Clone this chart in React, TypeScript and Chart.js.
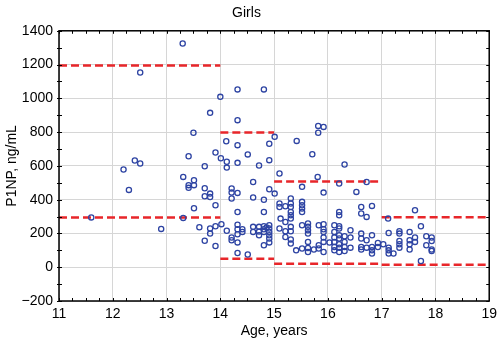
import React, { useEffect, useRef } from "react";
import { Chart, registerables } from "chart.js";

Chart.register(...registerables);

// ---- data ----
const chartTitle = "Girls";
const xAxisTitle = "Age, years";
const yAxisTitle = "P1NP, ng/mL";
const xMin = 11;
const xMax = 19;
const yMin = -200;
const yMax = 1400;

// [age, P1NP]
const girls11to14: [number, number][] = [
  [11.6, 295], [12.2, 579], [12.3, 458], [12.41, 632], [12.51, 614], [12.51, 1153],
  [12.9, 227], [13.3, 1325], [13.31, 535], [13.31, 292], [13.41, 657], [13.41, 486],
  [13.41, 470], [13.5, 796], [13.51, 515], [13.51, 486], [13.51, 349], [13.61, 237],
  [13.71, 598], [13.71, 468], [13.71, 420], [13.71, 157], [13.81, 914], [13.81, 436],
  [13.81, 416], [13.81, 229], [13.81, 199], [13.91, 679], [13.91, 367], [13.91, 243],
  [13.91, 126],
];

const girls14to15: [number, number][] = [
  [14.0, 1009], [14.01, 645], [14.02, 255], [14.11, 746], [14.12, 625], [14.12, 590],
  [14.12, 216], [14.21, 466], [14.21, 442], [14.21, 407], [14.21, 176], [14.21, 160],
  [14.32, 1053], [14.32, 871], [14.32, 723], [14.32, 618], [14.32, 440], [14.32, 327],
  [14.32, 252], [14.32, 225], [14.32, 195], [14.32, 147], [14.32, 84], [14.41, 225],
  [14.41, 209], [14.51, 668], [14.51, 75], [14.61, 505], [14.61, 413], [14.61, 239],
  [14.61, 209], [14.72, 602], [14.72, 239], [14.72, 211], [14.72, 189], [14.81, 1053],
  [14.81, 400], [14.81, 327], [14.81, 243], [14.81, 225], [14.81, 209], [14.81, 130],
  [14.86, 235], [14.91, 731], [14.91, 634], [14.91, 462], [14.91, 249], [14.91, 229],
  [14.91, 209], [14.91, 189], [14.91, 170], [14.91, 147],
];

const girls15to17: [number, number][] = [
  [15.01, 772], [15.01, 436], [15.1, 555], [15.1, 377], [15.1, 357], [15.1, 229],
  [15.12, 288], [15.21, 361], [15.21, 268], [15.21, 213], [15.21, 179], [15.31, 407],
  [15.31, 377], [15.31, 357], [15.31, 327], [15.31, 308], [15.31, 288], [15.31, 239],
  [15.31, 213], [15.31, 164], [15.31, 140], [15.41, 100], [15.42, 748], [15.52, 476],
  [15.52, 387], [15.52, 367], [15.52, 348], [15.52, 327], [15.52, 249], [15.52, 111],
  [15.63, 259], [15.63, 239], [15.63, 219], [15.63, 199], [15.63, 150], [15.63, 114],
  [15.63, 90], [15.71, 669], [15.74, 105], [15.82, 837], [15.92, 831], [15.82, 796],
  [15.81, 535], [15.83, 249], [15.83, 130], [15.83, 111], [15.92, 442], [15.92, 255],
  [15.92, 225], [15.92, 209], [15.92, 176], [15.92, 150], [15.92, 90], [16.03, 146],
  [16.12, 249], [16.12, 209], [16.12, 176], [16.12, 150], [16.12, 120], [16.12, 100],
  [16.21, 496], [16.21, 327], [16.21, 308], [16.21, 243], [16.21, 229], [16.21, 189],
  [16.21, 170], [16.21, 136], [16.21, 116], [16.21, 90], [16.31, 608], [16.31, 183],
  [16.31, 150], [16.31, 120], [16.31, 96], [16.42, 219], [16.42, 176], [16.42, 116],
  [16.53, 446], [16.62, 357], [16.62, 318], [16.62, 199], [16.62, 170], [16.62, 120],
  [16.62, 105], [16.72, 505], [16.72, 298], [16.72, 160], [16.72, 116], [16.82, 363],
  [16.82, 189], [16.82, 120], [16.82, 100], [16.82, 81], [16.93, 144], [16.93, 120],
];

const girls17to19: [number, number][] = [
  [17.03, 136], [17.12, 288], [17.13, 203], [17.13, 116], [17.13, 100], [17.13, 81],
  [17.22, 81], [17.33, 213], [17.33, 199], [17.33, 155], [17.33, 136], [17.33, 116],
  [17.52, 209], [17.52, 160], [17.52, 136], [17.52, 105], [17.62, 337], [17.62, 176],
  [17.62, 150], [17.73, 243], [17.73, 37], [17.83, 183], [17.83, 130], [17.93, 176],
  [17.93, 155], [17.93, 105], [17.93, 96],
];

// reference bands: [fromAge, toAge, upper, lower]
const bandStarts = [11, 14, 15, 17];
const bandEnds = [14, 15, 17, 19];
const bandUpper = [1195, 798, 507, 296];
const bandLower = [295, 50, 20, 14];

// ---- chart ----
const FONT = "'Liberation Sans', Arial, Helvetica, sans-serif";
const BLUE = "#2e44a3";
const RED = "#e8262a";

const framePlugin = {
  id: "frameTicks",
  afterDatasetsDraw(chart: any) {
    const { ctx, chartArea } = chart;
    const { left, right, top, bottom } = chartArea;
    const xs = chart.scales.x;
    const ys = chart.scales.y;
    ctx.save();
    ctx.strokeStyle = "#000";
    ctx.lineWidth = 1;
    ctx.beginPath();
    for (let v = xMin; v <= xMax + 1e-9; v += 0.25) {
      const px = Math.round(xs.getPixelForValue(v)) + 0.5;
      ctx.moveTo(px, bottom);
      ctx.lineTo(px, bottom - 3);
      ctx.moveTo(px, top);
      ctx.lineTo(px, top + 3);
    }
    for (let v = yMin; v <= yMax + 1e-9; v += 100) {
      const py = Math.round(ys.getPixelForValue(v)) + 0.5;
      ctx.moveTo(left - 2, py);
      ctx.lineTo(left + 3, py);
      ctx.moveTo(right, py);
      ctx.lineTo(right - 3, py);
    }
    ctx.stroke();
    ctx.lineWidth = 1.5;
    ctx.strokeRect(left, top, right - left, bottom - top);
    ctx.restore();
  },
};

const toXY = (arr: [number, number][]) => arr.map(([x, y]) => ({ x, y }));

export default function App() {
  const ref = useRef<HTMLCanvasElement | null>(null);

  useEffect(() => {
    if (!ref.current) return;
    const pointSets = [girls11to14, girls14to15, girls15to17, girls17to19];
    const pointDatasets = pointSets.map((s) => ({
      type: "scatter" as const,
      data: toXY(s),
      pointStyle: "circle",
      pointRadius: 2.6,
      pointBorderWidth: 1.3,
      borderColor: BLUE,
      backgroundColor: "rgba(0,0,0,0)",
      showLine: false,
      order: 0,
    }));
    const lineDatasets: any[] = [];
    bandStarts.forEach((from, i) => {
      const to = bandEnds[i];
      [bandUpper[i], bandLower[i]].forEach((v) => {
        lineDatasets.push({
          type: "line",
          data: [
            { x: from, y: v },
            { x: to, y: v },
          ],
          borderColor: RED,
          borderWidth: 2.5,
          borderDash: [8, 4],
          pointRadius: 0,
          fill: false,
          order: 1,
        });
      });
    });

    const chart = new Chart(ref.current, {
      type: "scatter",
      data: { datasets: [...pointDatasets, ...lineDatasets] as any },
      options: {
        animation: false,
        responsive: false,
        layout: { padding: { left: 0, right: 9, top: 0, bottom: 0 } },
        plugins: {
          legend: { display: false },
          tooltip: { enabled: false },
          title: {
            display: true,
            text: chartTitle,
            color: "#000",
            font: { family: FONT, size: 14, weight: "normal" },
            padding: { top: 5, bottom: 9 },
          },
        },
        scales: {
          x: {
            type: "linear",
            min: xMin,
            max: xMax,
            afterFit: (s: any) => {
              s.height = 49;
            },
            ticks: {
              stepSize: 1,
              color: "#000",
              font: { family: FONT, size: 14 },
              padding: 5,
              maxRotation: 0,
              callback: (v: any) => String(v),
            },
            grid: { color: "#d6d6d6", lineWidth: 1, drawTicks: false },
            border: { display: false },
            title: {
              display: true,
              text: xAxisTitle,
              color: "#000",
              font: { family: FONT, size: 14 },
              padding: { top: 0, bottom: 10 },
            },
          },
          y: {
            type: "linear",
            min: yMin,
            max: yMax,
            afterFit: (s: any) => {
              s.width = 59;
            },
            ticks: {
              stepSize: 200,
              color: "#000",
              font: { family: FONT, size: 14 },
              padding: 6,
              callback: (v: any) => String(v).replace("-", "\u2212"),
            },
            grid: { color: "#d6d6d6", lineWidth: 1, drawTicks: false },
            border: { display: false },
            title: {
              display: true,
              text: yAxisTitle,
              color: "#000",
              font: { family: FONT, size: 14 },
              padding: { top: 4, bottom: 0 },
            },
          },
        },
      },
      plugins: [framePlugin],
    });
    return () => chart.destroy();
  }, []);

  return (
    <div style={{ position: "fixed", left: 0, top: 0, width: 502, height: 350, background: "#fff" }}>
      <canvas ref={ref} width={502} height={350} style={{ width: 502, height: 350 }} />
    </div>
  );
}
